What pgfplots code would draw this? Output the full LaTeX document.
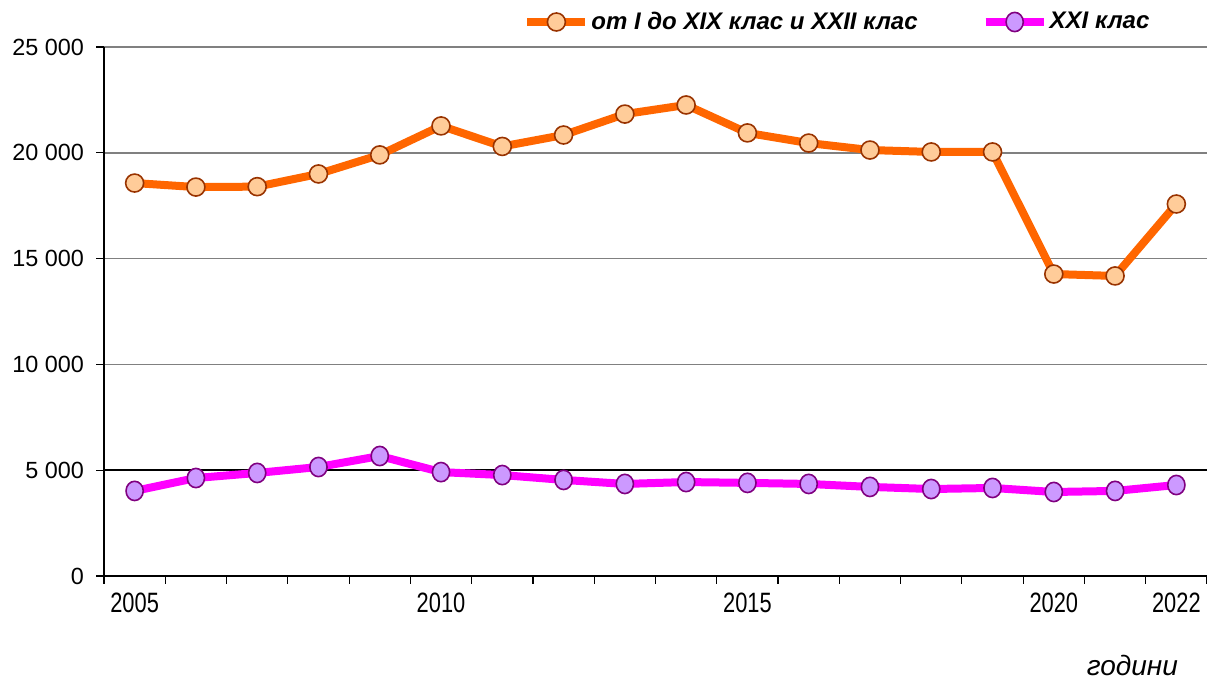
\documentclass[border=0pt]{standalone}
\usepackage{pgfplots}
\pgfplotsset{compat=1.18}
\usepackage{fontspec}
\setmainfont{Liberation Sans}
\newfontfamily\narrowfont[FakeStretch=0.78]{Liberation Sans}
\definecolor{orline}{HTML}{FF6600}
\definecolor{orfill}{HTML}{FFCC99}
\definecolor{oredge}{HTML}{993300}
\definecolor{mgline}{HTML}{FF00FF}
\definecolor{mgfill}{HTML}{CC99FF}
\definecolor{mgedge}{HTML}{800080}
\definecolor{gridgray}{HTML}{808080}
\begin{document}
\begin{tikzpicture}
\begin{axis}[
  name=ax, scale only axis, width=551.5pt, height=264.5pt,
  xmin=2004.5, xmax=2022.5, ymin=0, ymax=25000,
  scaled y ticks=false,
  axis lines*=left,
  axis line style={black, line width=0.9pt},
  tick align=outside,
  major tick length=4pt,
  tick style={black, line width=0.6pt},
  xtick={2004.5,2005.5,...,2022.5},
  xticklabels={},
  extra x ticks={2005,2010,2015,2020,2022},
  extra x tick labels={2005,2010,2015,2020,2022},
  extra x tick style={major tick length=0pt, tick style={draw=none}},
  ytick={0,5000,10000,15000,20000,25000},
  yticklabels={0,5 000,10 000,15 000,20 000,25 000},
  ymajorgrids,
  major grid style={gridgray, line width=0.75pt},
  extra y ticks={5000},
  extra y tick labels={},
  extra y tick style={major grid style={black, line width=0.8pt}, major tick length=0pt},
  yticklabel style={font=\fontsize{11.7}{13}\selectfont, xshift=-2.5pt},
  xticklabel style={font=\narrowfont\fontsize{14}{15}\selectfont, yshift=-5pt},
  xlabel={\textit{години}},
  xlabel style={at={(rel axis cs:0.98,0)}, anchor=base east, yshift=-50pt, font=\fontsize{14}{15}\selectfont},
  legend columns=2,
  legend style={at={(rel axis cs:0.3853,1)}, anchor=west, xshift=-3pt, yshift=12.5pt, draw=none, fill=none, inner sep=0pt,
    nodes={inner xsep=1pt},
    font=\fontsize{12}{13}\selectfont\bfseries\itshape,
    /tikz/every even column/.append style={column sep=31pt}},
  legend image code/.code={\draw[#1, mark repeat=2, mark phase=2] plot coordinates {(0pt,0pt) (14.5pt,0pt) (29pt,0pt)};},
]
\addplot[orline, line width=4pt, mark=*, mark size=4.5pt, mark options={fill=orfill, draw=oredge, line width=0.8pt}] coordinates {
(2005,18570) (2006,18380) (2007,18400) (2008,19000) (2009,19900) (2010,21270) (2011,20300) (2012,20840) (2013,21830) (2014,22260) (2015,20940) (2016,20460) (2017,20130) (2018,20040) (2019,20040) (2020,14270) (2021,14180) (2022,17580)
};
\addlegendentry{от I до XIX клас и XXII клас}
\addplot[mgline, line width=4pt, mark=*, mark size=4.3pt, mark options={fill=mgfill, draw=mgedge, line width=0.8pt, yscale=1.12}] coordinates {
(2005,4020) (2006,4630) (2007,4870) (2008,5150) (2009,5670) (2010,4910) (2011,4770) (2012,4540) (2013,4350) (2014,4440) (2015,4400) (2016,4350) (2017,4210) (2018,4110) (2019,4160) (2020,3970) (2021,4020) (2022,4300)
};
\addlegendentry{XXI клас}
\end{axis}
\pgfresetboundingbox
\path[use as bounding box] ([shift={(-52pt,-54pt)}]ax.south west) rectangle ([shift={(0pt,23.5pt)}]ax.north east);
\end{tikzpicture}
\end{document}
